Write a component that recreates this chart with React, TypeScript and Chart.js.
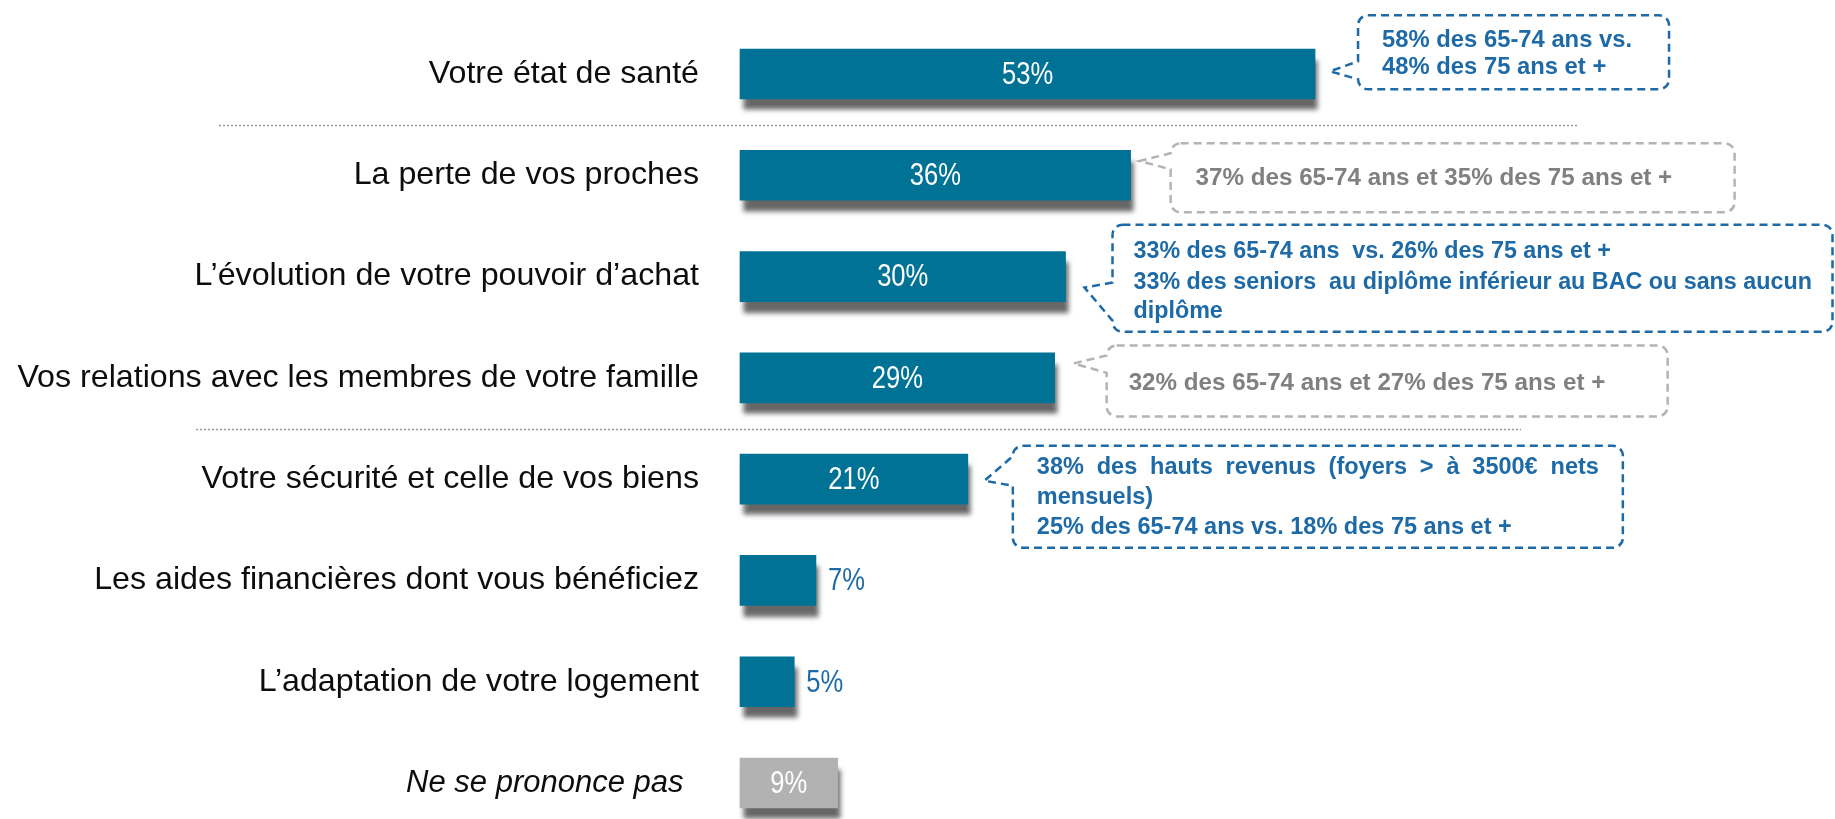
import React, { useEffect, useRef } from 'react';
import { Chart, registerables } from 'chart.js';

Chart.register(...registerables);

// ---------- DATA ----------
const categories = [
  'Votre état de santé',
  'La perte de vos proches',
  'L’évolution de votre pouvoir d’achat',
  'Vos relations avec les membres de votre famille',
  'Votre sécurité et celle de vos biens',
  'Les aides financières dont vous bénéficiez',
  'L’adaptation de votre logement',
  'Ne se prononce pas',
];
const values = [53, 36, 30, 29, 21, 7, 5, 9];
const valueLabels = ['53%', '36%', '30%', '29%', '21%', '7%', '5%', '9%'];

const calloutRows = [0, 1, 2, 3, 4];
const calloutTexts = [
  ['58% des 65-74 ans vs.', '48% des 75 ans et +'],
  ['37% des 65-74 ans et 35% des 75 ans et +'],
  [
    '33% des 65-74 ans  vs. 26% des 75 ans et +',
    '33% des seniors  au diplôme inférieur au BAC ou sans aucun',
    'diplôme',
  ],
  ['32% des 65-74 ans et 27% des 75 ans et +'],
  [
    '38% des hauts revenus (foyers > à 3500€ nets',
    'mensuels)',
    '25% des 65-74 ans vs. 18% des 75 ans et +',
  ],
];
const calloutTones = ['blue', 'gray', 'blue', 'gray', 'blue'];
const separatorsAfter = [0, 3];

// ---------- STYLE / LAYOUT ----------
const BAR_BLUE = '#007296';
const BAR_GRAY = '#b2b2b2';
const TEXT_BLUE = '#1e6aa6';
const LINE_BLUE = '#1e6aa6';
const TEXT_GRAY = '#808080';
const LINE_GRAY = '#b4b4b4';
const LABEL_FONT = "'Liberation Sans', Arial, sans-serif";

// geometry of callouts relative to the end (x) and centre (y) of their bar
const calloutGeom = [
  { dx: 43, w: 311, top: -58.7, h: 74, tip: [15, -2.7], base: [-12.7, 5.3], textX: 24, baselines: [-27, 0.3], justify: [0], size: 23.8 },
  { dx: 40, w: 564, top: -32, h: 69, tip: [9, -14.3], base: [-22, -6], textX: 25, baselines: [10], justify: [0], size: 24.2 },
  { dx: 47, w: 720, top: -51.8, h: 107, tip: [19, 11], base: [6, 44], textX: 21, baselines: [-18.5, 12, 41], justify: [0], size: 23.3 },
  { dx: 52, w: 561, top: -32.4, h: 71, tip: [19, -14.4], base: [-26, -5], textX: 22, baselines: [12.6], justify: [0], size: 24.2 },
  { dx: 45, w: 610, top: -33.4, h: 102, tip: [16.5, 1.6], base: [-23, 6.6], textX: 24, baselines: [-5, 25, 55], justify: [562], size: 23.5 },
];
const separatorExtents = [
  [219, 1578],
  [196, 1521],
];

function drawCalloutBox(ctx, L, T, W, H, tipX, tipY, bU, bL, color) {
  const R = L + W;
  const B = T + H;
  const r = 10;
  const up = Math.max(bU, T + r);
  const lo = Math.min(bL, B - r);
  ctx.save();
  ctx.strokeStyle = color;
  ctx.lineWidth = 2.5;
  ctx.setLineDash([8, 5]);
  ctx.beginPath();
  ctx.moveTo(L + r, T);
  ctx.lineTo(R - r, T);
  ctx.arcTo(R, T, R, T + r, r);
  ctx.lineTo(R, B - r);
  ctx.arcTo(R, B, R - r, B, r);
  ctx.lineTo(L + r, B);
  ctx.arcTo(L, B, L, B - r, r);
  ctx.lineTo(L, lo);
  ctx.lineTo(tipX, tipY);
  ctx.lineTo(L, up);
  ctx.lineTo(L, T + r);
  ctx.arcTo(L, T, L + r, T, r);
  ctx.closePath();
  ctx.stroke();
  ctx.restore();
}

function drawJustified(ctx, text, x, y, width) {
  const words = text.split(' ');
  const total = words.reduce((s, w) => s + ctx.measureText(w).width, 0);
  const gap = (width - total) / (words.length - 1);
  let cx = x;
  words.forEach((w) => {
    ctx.fillText(w, cx, y);
    cx += ctx.measureText(w).width + gap;
  });
}

// narrow value label: Liberation Sans compressed horizontally
function drawNarrow(ctx, text, x, y, align) {
  const sx = 0.8;
  ctx.save();
  ctx.translate(x, y);
  ctx.scale(sx, 1);
  ctx.textAlign = align;
  ctx.fillText(text, 0, 0);
  ctx.restore();
}

const overlayPlugin = {
  id: 'overlay',
  beforeDatasetsDraw(chart) {
    const ctx = chart.ctx;
    ctx.save();
    ctx.shadowColor = 'rgba(0,0,0,0.6)';
    ctx.shadowBlur = 5;
    ctx.shadowOffsetX = 3;
    ctx.shadowOffsetY = 11;
  },
  afterDatasetsDraw(chart) {
    const ctx = chart.ctx;
    ctx.restore();
    const meta = chart.getDatasetMeta(0);
    const yScale = chart.scales.y;

    // value labels
    ctx.save();
    ctx.font = `32px ${LABEL_FONT}`;
    ctx.textBaseline = 'middle';
    meta.data.forEach((bar, i) => {
      const width = bar.x - bar.base;
      if (width >= 85) {
        ctx.fillStyle = '#ffffff';
        drawNarrow(ctx, valueLabels[i], (bar.x + bar.base) / 2, bar.y + 1, 'center');
      } else {
        ctx.fillStyle = TEXT_BLUE;
        drawNarrow(ctx, valueLabels[i], bar.x + 12, bar.y + 1, 'left');
      }
    });
    ctx.restore();

    // dotted separators
    ctx.save();
    ctx.strokeStyle = '#999999';
    ctx.lineWidth = 1.5;
    ctx.setLineDash([2, 2]);
    separatorsAfter.forEach((row, k) => {
      const y = Math.round((yScale.getPixelForTick(row) + yScale.getPixelForTick(row + 1)) / 2) + 0.5;
      ctx.beginPath();
      ctx.moveTo(separatorExtents[k][0], y);
      ctx.lineTo(separatorExtents[k][1], y);
      ctx.stroke();
    });
    ctx.restore();

    // callouts
    calloutRows.forEach((row, k) => {
      const bar = meta.data[row];
      const g = calloutGeom[k];
      const xe = bar.x;
      const yc = bar.y;
      const blue = calloutTones[k] === 'blue';
      const L = xe + g.dx;
      const T = yc + g.top;
      drawCalloutBox(ctx, L, T, g.w, g.h, xe + g.tip[0], yc + g.tip[1], yc + g.base[0], yc + g.base[1], blue ? LINE_BLUE : LINE_GRAY);
      ctx.save();
      ctx.font = `bold ${g.size}px ${LABEL_FONT}`;
      ctx.fillStyle = blue ? TEXT_BLUE : TEXT_GRAY;
      ctx.textAlign = 'left';
      ctx.textBaseline = 'alphabetic';
      calloutTexts[k].forEach((line, j) => {
        const x = L + g.textX;
        const y = yc + g.baselines[j];
        const jw = g.justify[j];
        if (jw) drawJustified(ctx, line, x, y, jw);
        else ctx.fillText(line, x, y);
      });
      ctx.restore();
    });
  },
};

export default function App() {
  const ref = useRef<HTMLCanvasElement>(null);

  useEffect(() => {
    const canvas = ref.current;
    if (!canvas) return;
    const last = categories.length - 1;
    const chart = new Chart(canvas, {
      type: 'bar',
      data: {
        labels: categories,
        datasets: [
          {
            data: values,
            backgroundColor: values.map((_, i) => (i === last ? BAR_GRAY : BAR_BLUE)),
            borderWidth: 0,
            barThickness: 50,
            clip: false,
          },
        ],
      },
      options: {
        indexAxis: 'y',
        responsive: false,
        animation: false,
        devicePixelRatio: 1,
        layout: { padding: { top: 74, bottom: 36, left: 0, right: 10 } },
        plugins: {
          legend: { display: false },
          tooltip: { enabled: false },
          title: { display: false },
        },
        scales: {
          x: { display: false, min: 0, max: 100 },
          y: {
            offset: false,
            grid: { display: false, drawTicks: false },
            border: { display: false },
            afterFit: (s) => {
              s.width = 740;
              s.paddingTop = 0;
              s.paddingBottom = 0;
            },
            ticks: {
              autoSkip: false,
              padding: 41,
              color: '#0d0d0d',
              font: (c) => ({
                family: LABEL_FONT,
                size: c.index === last ? 31 : 32.2,
                style: c.index === last ? 'italic' : 'normal',
              }),
              callback: (_v, i) => (i === last ? categories[i] + '\u2002' : categories[i]),
            },
          },
        },
      },
      plugins: [overlayPlugin],
    });
    return () => chart.destroy();
  }, []);

  return (
    <div style={{ position: 'fixed', left: 0, top: 0, width: 1835, height: 819, background: '#ffffff' }}>
      <canvas ref={ref} width={1835} height={819} style={{ display: 'block', width: 1835, height: 819 }} />
    </div>
  );
}
